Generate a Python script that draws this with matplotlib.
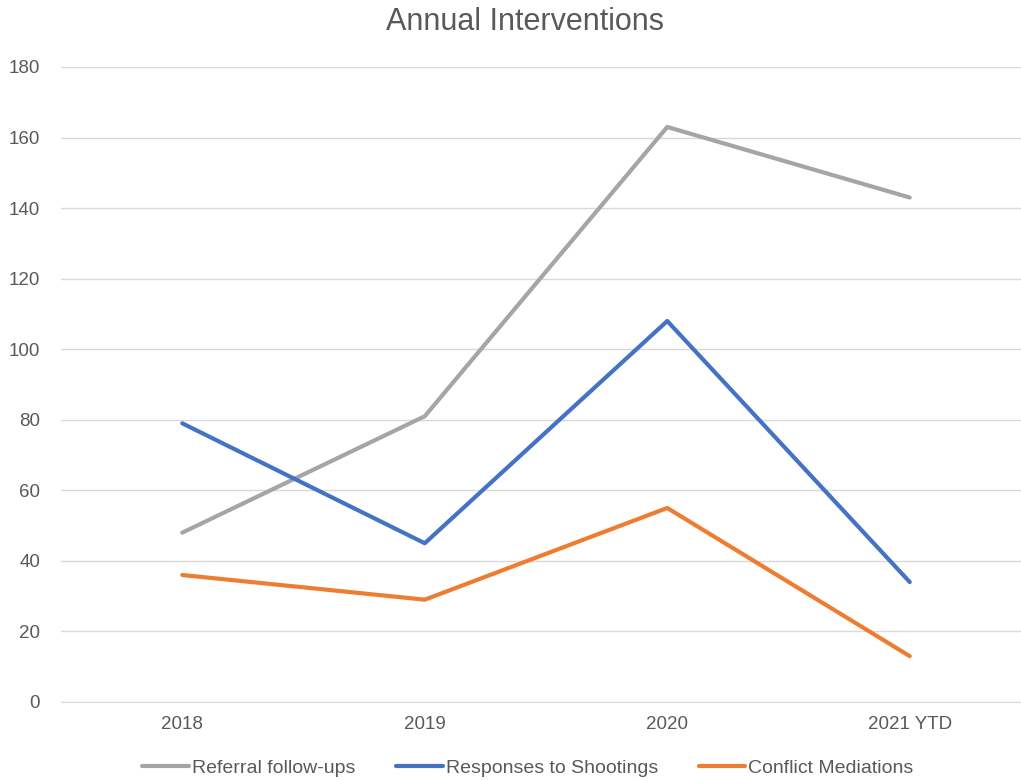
import matplotlib
matplotlib.use("Agg")
import matplotlib.pyplot as plt

categories = ["2018", "2019", "2020", "2021 YTD"]
referral = [48, 81, 163, 143]
shootings = [79, 45, 108, 34]
conflict = [36, 29, 55, 13]
series_names = ["Referral follow-ups", "Responses to Shootings", "Conflict Mediations"]
colors = ["#A5A5A5", "#4472C4", "#ED7D31"]
yticks = list(range(0, 181, 20))

plt.rcParams['font.family'] = ['Liberation Sans', 'DejaVu Sans']

W, H = 1021, 781
fig = plt.figure(figsize=(W/100, H/100), dpi=100)
left, right, top, bottom = 61, 1031, 67, 702
ax = fig.add_axes([left/W, 1-bottom/H, (right-left)/W, (bottom-top)/H])

x = list(range(len(categories)))
for vals, name, c in zip([referral, shootings, conflict], series_names, colors):
    ax.plot(x, vals, color=c, lw=3, label=name, solid_capstyle='round', solid_joinstyle='round')

ax.set_xlim(-0.5, len(categories)-0.5)
ax.set_ylim(0, 180)
ax.set_yticks(yticks)
ax.set_xticks(x)
ax.set_xticklabels(categories)
ax.grid(axis='y', color='#D9D9D9', lw=1)
ax.set_axisbelow(True)
for s in ['top', 'right', 'left']:
    ax.spines[s].set_visible(False)
ax.spines['bottom'].set_color('#D9D9D9')
ax.tick_params(axis='both', length=0, labelsize=13.5, labelcolor='#595959')
ax.tick_params(axis='y', pad=15)
ax.tick_params(axis='x', pad=10)

fig.text(525/W, 1-22/H, "Annual Interventions", ha='center', va='center', fontsize=22, color='#595959')

leg = fig.legend(loc='center', bbox_to_anchor=(528/W, 1-768/H), ncol=3, frameon=False,
                 fontsize=14, handlelength=2.4, handletextpad=0.15, columnspacing=2.1)
for t in leg.get_texts():
    t.set_color('#595959')

fig.savefig("out.png", dpi=100)
